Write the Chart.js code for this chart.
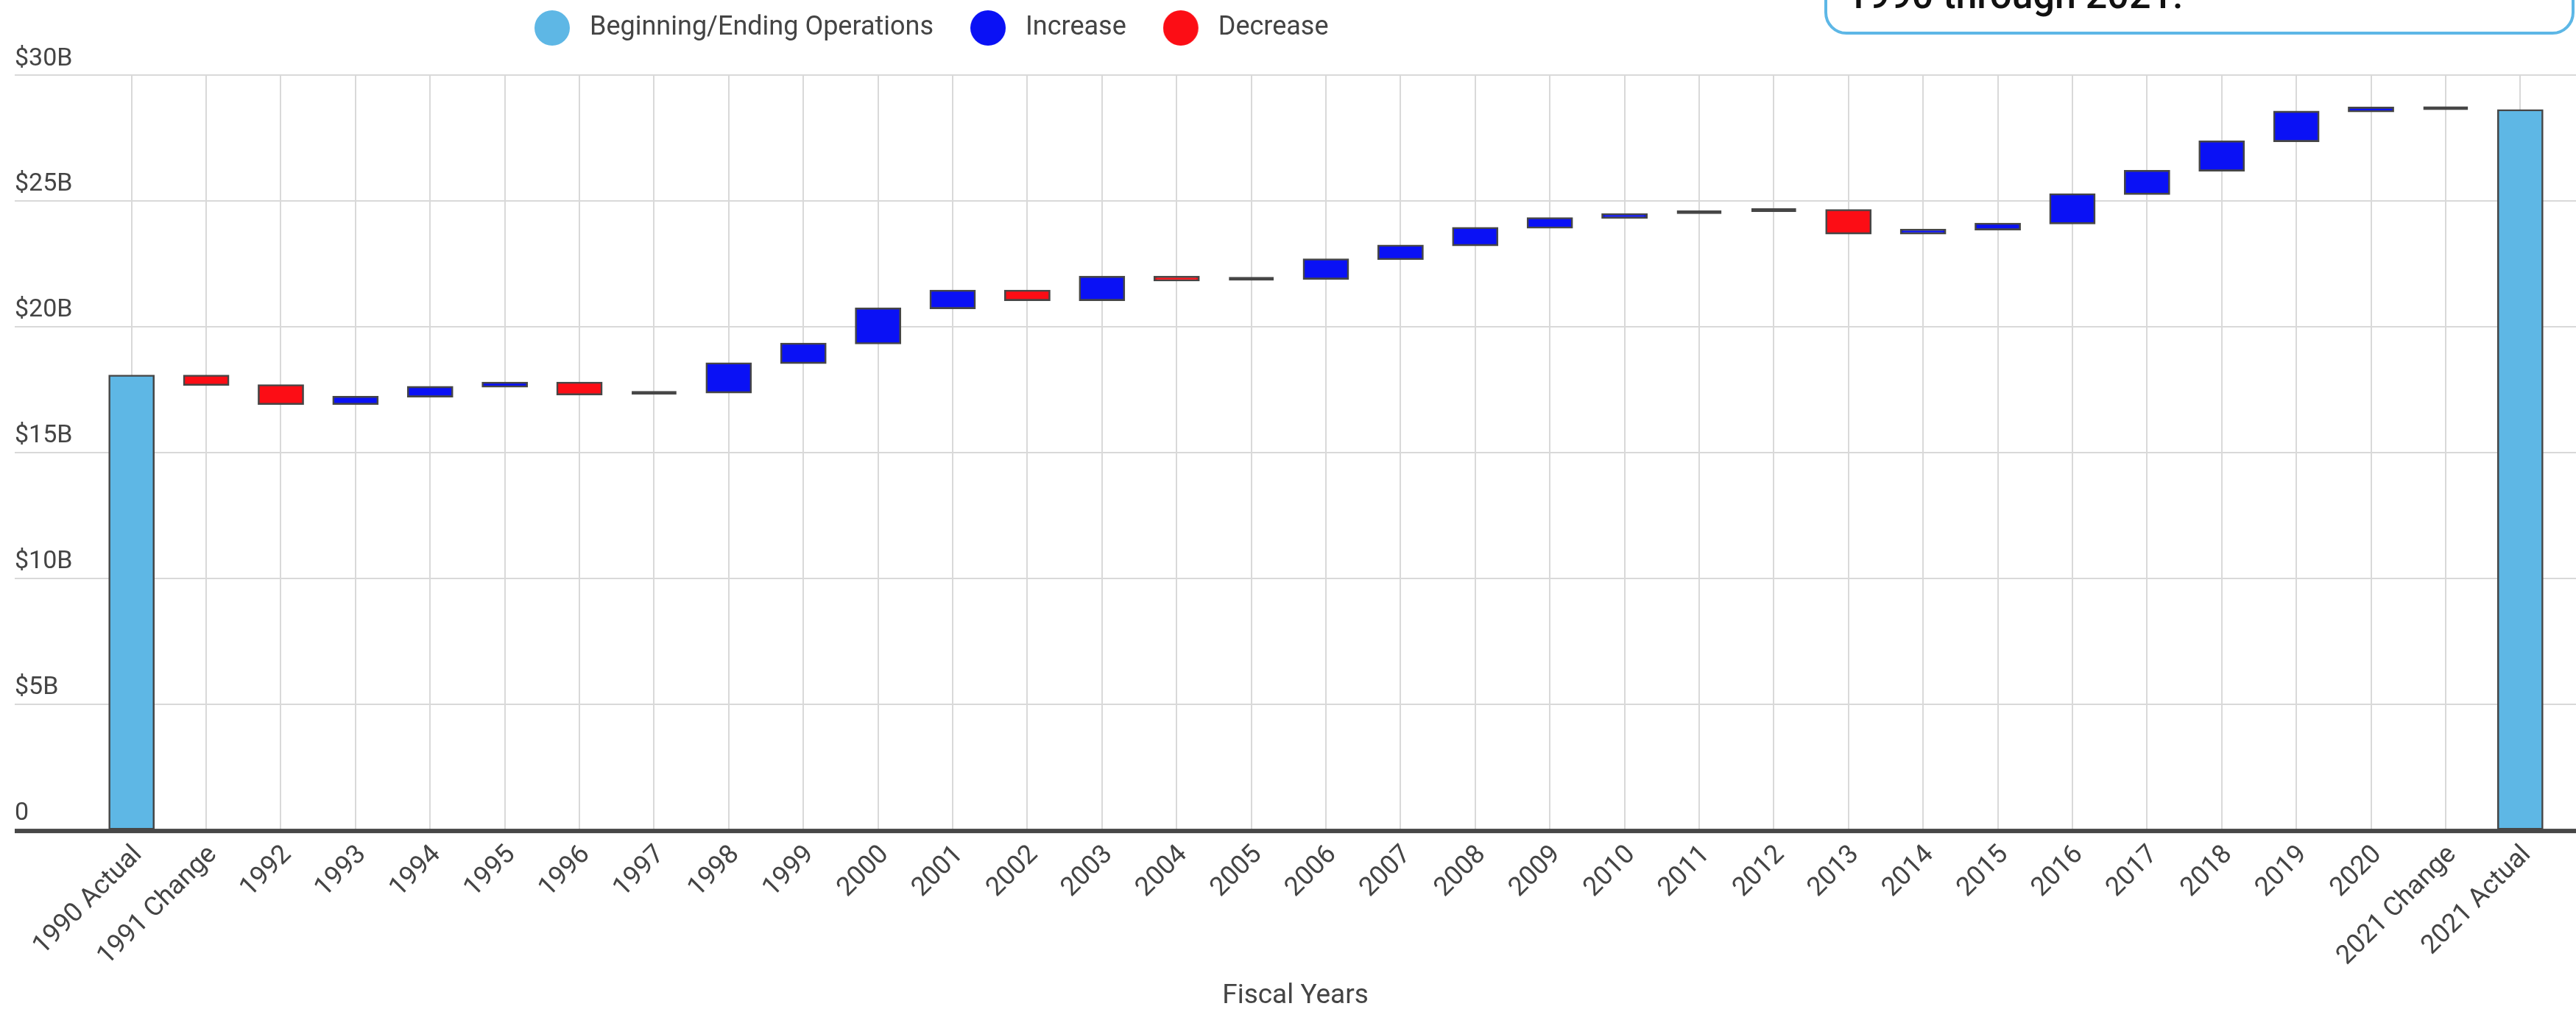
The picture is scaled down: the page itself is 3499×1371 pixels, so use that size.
<!DOCTYPE html>
<html>
<head>
<meta charset="utf-8">
<script src="https://cdn.jsdelivr.net/npm/chart.js@4.4.1/dist/chart.umd.min.js"></script>
<style>
html,body{margin:0;padding:0;background:#fff;overflow:hidden;width:3499px;height:1371px;}
#wrap{position:relative;width:3499px;height:1371px;}
#c{position:absolute;left:0;top:0;}
#note{position:absolute;left:2478px;top:-200px;width:1019px;height:247px;box-sizing:border-box;border:4px solid #5db7e6;border-radius:30px;background:#fff;}
#note span{position:absolute;left:26px;bottom:23px;font:500 52px/1 Roboto, sans-serif;color:#111;white-space:nowrap;}
</style>
</head>
<body>
<div id="wrap">
  <canvas id="c" width="3499" height="1371"></canvas>
  <div id="note"><span>1990 through 2021.</span></div>
</div>
<script>
// ---- data (values in $ billions) ----
const categories = ['1990 Actual','1991 Change','1992','1993','1994','1995','1996','1997','1998','1999',
  '2000','2001','2002','2003','2004','2005','2006','2007','2008','2009','2010','2011','2012','2013',
  '2014','2015','2016','2017','2018','2019','2020','2021 Change','2021 Actual'];
// running level of operations at the end of each period
const levels = [18.06, 17.68, 16.92, 17.22, 17.61, 17.78, 17.30, 17.38, 18.55, 19.33,
  20.73, 21.44, 21.05, 21.99, 21.83, 21.90, 22.68, 23.23, 23.93, 24.32, 24.48, 24.56, 24.64, 23.70,
  23.86, 24.10, 25.27, 26.20, 27.37, 28.55, 28.71, 28.61, 28.61];
const seriesNames = ['Beginning/Ending Operations', 'Increase', 'Decrease'];
const seriesColors = ['#5eb7e5', '#0a11f5', '#fc0d15'];
const yTickValues = [0, 5, 10, 15, 20, 25, 30];
const yTickLabels = ['0', '$5B', '$10B', '$15B', '$20B', '$25B', '$30B'];
const xTitle = 'Fiscal Years';

// ---- build floating bars ----
const lastIdx = categories.length - 1;
function kindOf(i) {
  if (i === 0 || i === lastIdx) return 0;
  return levels[i] >= levels[i - 1] ? 1 : 2;
}
function barsFor(kind) {
  return categories.map((_, i) => {
    if (kindOf(i) !== kind) return null;
    const lo = (kind === 0) ? 0 : levels[i - 1];
    return [lo, levels[i]];
  });
}

Chart.defaults.font.family = 'Roboto, sans-serif';
Chart.defaults.color = '#444';

const GRID = '#d9d9d9';
const LEGEND_PAD = 50;

function makeDot(color) {
  const c = document.createElement('canvas');
  c.width = 57; c.height = 48;
  const g = c.getContext('2d');
  g.fillStyle = color;
  g.beginPath(); g.arc(24, 24, 24, 0, Math.PI * 2); g.fill();
  return c;
}
const dots = seriesColors.map(makeDot);

const layoutTweaks = {
  id: 'layoutTweaks',
  beforeInit(chart) {
    const lg = chart.legend;
    const orig = lg.fit;
    lg.fit = function () { orig.call(this); this.height = 102; };
  },
  afterLayout(chart) {
    const lg = chart.legend;
    lg.left = 726 - LEGEND_PAD;
    lg.top = 38 - LEGEND_PAD - 18;
  },
  afterDatasetsDraw(chart) {
    const y = chart.scales.y;
    const y0 = y.getPixelForValue(0);
    const ctx = chart.ctx;
    ctx.save();
    ctx.fillStyle = '#474747';
    ctx.fillRect(y.left, y0 - 1.5, chart.width - y.left, 6);
    ctx.restore();
  }
};

// tiny changes are drawn as solid outline-coloured slivers, others with a stroke straddling the edges
function isTiny(ctx) {
  const r = ctx.raw;
  return !r || Math.abs(r[1] - r[0]) < 0.12;
}

const common = {
  borderColor: '#464646',
  borderWidth: 2.6,
  borderSkipped: false,
  inflateAmount: (ctx) => isTiny(ctx) ? 0 : 1,
  minBarLength: 5,
  barPercentage: 0.6,
  categoryPercentage: 1,
  grouped: false
};

new Chart(document.getElementById('c'), {
  type: 'bar',
  data: {
    labels: categories,
    datasets: seriesNames.map((name, k) => Object.assign({
      label: name,
      data: barsFor(k),
      backgroundColor: seriesColors[k]
    }, common))
  },
  options: {
    responsive: false,
    animation: false,
    devicePixelRatio: 1,
    layout: { padding: { left: 20, right: 0, top: 0, bottom: 0 } },
    plugins: {
      tooltip: { enabled: false },
      legend: {
        position: 'top',
        align: 'start',
        labels: {
          usePointStyle: true,
          pointStyleWidth: 57,
          padding: LEGEND_PAD,
          color: '#444',
          font: { size: 36 },
          generateLabels(chart) {
            const items = Chart.defaults.plugins.legend.labels.generateLabels(chart);
            items.forEach((it, i) => { it.pointStyle = dots[i]; it.lineWidth = 0; });
            return items;
          }
        }
      },
      title: {
        display: true,
        position: 'bottom',
        text: xTitle,
        color: '#444',
        font: { size: 37, weight: 'normal' },
        padding: { top: 0, bottom: -5 }
      }
    },
    scales: {
      x: {
        offset: true,
        grid: { display: true, color: GRID, lineWidth: 2, offset: false, drawTicks: false },
        border: { display: false },
        ticks: {
          autoSkip: false, maxRotation: 45, minRotation: 45, padding: 13, labelOffset: 9,
          color: '#444', font: { size: 36 }
        },
        afterFit(s) { s.height = 204; }
      },
      y: {
        position: 'left',
        min: 0, max: 30,
        afterBuildTicks(s) { s.ticks = yTickValues.map(v => ({ value: v })); },
        grid: { color: GRID, lineWidth: 2, drawTicks: true, tickLength: 108 },
        border: { display: false },
        ticks: {
          crossAlign: 'far', padding: 0, labelOffset: -22,
          color: '#444', font: { size: 34 },
          callback(v) { const i = yTickValues.indexOf(v); return i >= 0 ? yTickLabels[i] : ''; }
        },
        afterFit(s) { s.width = 108; }
      },
      y2: {
        position: 'right',
        min: 0, max: 30,
        afterBuildTicks(s) { s.ticks = yTickValues.map(v => ({ value: v })); },
        grid: { color: GRID, lineWidth: 2, drawOnChartArea: false, drawTicks: true, tickLength: 25 },
        border: { display: false },
        ticks: { display: false },
        afterFit(s) { s.width = 25; }
      }
    }
  },
  plugins: [layoutTweaks]
});
</script>
</body>
</html>
